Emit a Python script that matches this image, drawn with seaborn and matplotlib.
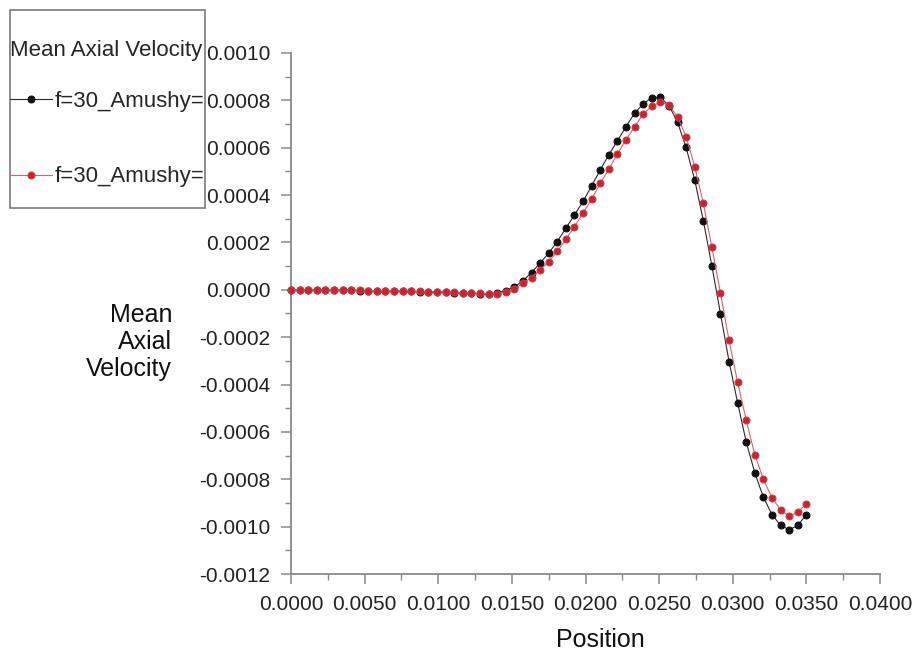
import matplotlib
matplotlib.use("Agg")
import matplotlib.pyplot as plt
import matplotlib.ticker as mticker
from matplotlib.patches import Rectangle
import pandas as pd
import seaborn as sns

# Sample positions along the line (m)
position = [
    0.0, 0.000583, 0.001167, 0.00175, 0.002333, 0.002917, 0.0035, 0.004083,
    0.004667, 0.00525, 0.005833, 0.006417, 0.007, 0.007583, 0.008167, 0.00875,
    0.009333, 0.009917, 0.0105, 0.011083, 0.011667, 0.01225, 0.012833, 0.013417,
    0.014, 0.014583, 0.015167, 0.01575, 0.016333, 0.016917, 0.0175, 0.018083,
    0.018667, 0.01925, 0.019833, 0.020417, 0.021, 0.021583, 0.022167, 0.02275,
    0.023333, 0.023917, 0.0245, 0.025083, 0.025667, 0.02625, 0.026833, 0.027417,
    0.028, 0.028583, 0.029167, 0.02975, 0.030333, 0.030917, 0.0315, 0.032083,
    0.032667, 0.03325, 0.033833, 0.034417, 0.035,
]

# Mean axial velocity, first case (black)
velocity_a = [
    0.0, 0.0, -0.000001, -0.000001, -0.000001, -0.000002, -0.000002, -0.000002,
    -0.000003, -0.000003, -0.000004, -0.000004, -0.000005, -0.000006, -0.000007, -0.000008,
    -0.000009, -0.00001, -0.000011, -0.000012, -0.000013, -0.000015, -0.000017, -0.000018,
    -0.000012, -0.000003, 0.000012, 0.000038, 0.000073, 0.000113, 0.000155, 0.000204,
    0.00026, 0.000316, 0.000373, 0.000439, 0.000506, 0.00057, 0.000629, 0.000689,
    0.000746, 0.000785, 0.000811, 0.000813, 0.000778, 0.000708, 0.000601, 0.000464,
    0.000292, 0.000101, -0.000101, -0.000303, -0.000478, -0.000643, -0.000773, -0.000876,
    -0.000949, -0.000995, -0.001013, -0.000995, -0.000949,
]

# Mean axial velocity, second case (red)
velocity_b = [
    0.0, 0.0, 0.0, -0.000001, -0.000001, -0.000001, -0.000002, -0.000002,
    -0.000002, -0.000003, -0.000003, -0.000004, -0.000004, -0.000005, -0.000006, -0.000007,
    -0.000008, -0.000009, -0.00001, -0.000011, -0.000012, -0.000014, -0.000015, -0.000016,
    -0.000016, -0.00001, 0.000003, 0.000028, 0.000052, 0.000084, 0.000119, 0.000162,
    0.000214, 0.000267, 0.000324, 0.000383, 0.00045, 0.000509, 0.000574, 0.000633,
    0.000689, 0.000741, 0.000776, 0.000792, 0.000781, 0.000731, 0.000647, 0.00052,
    0.000366, 0.00018, -0.000014, -0.000214, -0.000391, -0.000551, -0.000696, -0.0008,
    -0.000879, -0.000928, -0.000957, -0.000938, -0.000904,
]

series_labels = ["f=30_Amushy=", "f=30_Amushy="]
legend_title = "Mean Axial Velocity"
x_ticks = [0.0, 0.005, 0.01, 0.015, 0.02, 0.025, 0.03, 0.035, 0.04]
y_ticks = [-0.0012, -0.001, -0.0008, -0.0006, -0.0004, -0.0002, 0.0, 0.0002, 0.0004,
           0.0006, 0.0008, 0.001]

sns.set_style("ticks")
plt.rcParams["font.family"] = ["Liberation Sans", "DejaVu Sans"]

df_a = pd.DataFrame({"Position": position, "Velocity": velocity_a})
df_b = pd.DataFrame({"Position": position, "Velocity": velocity_b})

fig = plt.figure(figsize=(9.18, 6.62), dpi=100)
ax = fig.add_axes([291 / 918, 1 - 574 / 662, (880 - 291) / 918, (574 - 53) / 662])

common = dict(x="Position", y="Velocity", ax=ax, sort=False, estimator=None,
              marker="o", markersize=5.0, linewidth=0.8, clip_on=False, zorder=3)
sns.lineplot(data=df_a, color="#2a2a2a", markerfacecolor="#111111",
             markeredgecolor="#111111", label=series_labels[0], **common)
sns.lineplot(data=df_b, color="#dd5f66", markerfacecolor="#c8232e",
             markeredgecolor="#d23a44", label=series_labels[1], **common)

ax.set_xlim(x_ticks[0], x_ticks[-1])
ax.set_ylim(y_ticks[0], y_ticks[-1])
ax.set_xticks(x_ticks)
ax.set_yticks(y_ticks)
ax.xaxis.set_minor_locator(mticker.MultipleLocator(0.0025))
ax.yaxis.set_minor_locator(mticker.MultipleLocator(0.0001))
ax.xaxis.set_major_formatter(mticker.FormatStrFormatter("%.4f"))
ax.yaxis.set_major_formatter(mticker.FormatStrFormatter("%.4f"))

sns.despine(ax=ax)
for side in ("left", "bottom"):
    ax.spines[side].set_color("#8a8a8a")
    ax.spines[side].set_linewidth(1.3)
ax.tick_params(which="major", direction="out", length=7, width=1.1, color="#8a8a8a",
               labelsize=15, labelcolor="#222222")
ax.tick_params(which="minor", direction="out", length=4, width=1.0, color="#8a8a8a")
ax.tick_params(axis="y", which="major", pad=8)
ax.tick_params(axis="x", which="major", pad=8)

ax.set_xlabel("Position", fontsize=18, color="#111111")
ax.xaxis.set_label_coords((600 - 291) / 589, -(640 - 574) / 521)
ax.xaxis.label.set_va("center")
ax.set_ylabel("Mean\nAxial\nVelocity", fontsize=18, color="#111111", rotation=0,
              ha="right", va="center", linespacing=1.15)
ax.yaxis.set_label_coords(-(291 - 172) / 589, (574 - 342) / 521)

handles, labels = ax.get_legend_handles_labels()
ax.get_legend().remove()
leg = fig.legend(handles, labels, title=legend_title, loc="upper left",
                 bbox_to_anchor=(10 / 918, 1 - 40 / 662), frameon=False,
                 fontsize=16, title_fontsize=16, borderpad=0, borderaxespad=0,
                 handlelength=1.9, handletextpad=0.1, labelspacing=2.45,
                 alignment="left")
leg._legend_box.sep = 21.5
fig.add_artist(Rectangle((10 / 918, 1 - 208 / 662), 195 / 918, 198 / 662,
                         transform=fig.transFigure, fill=False,
                         edgecolor="#7a7a7a", linewidth=1.2))

fig.savefig("out.png", dpi=100)
